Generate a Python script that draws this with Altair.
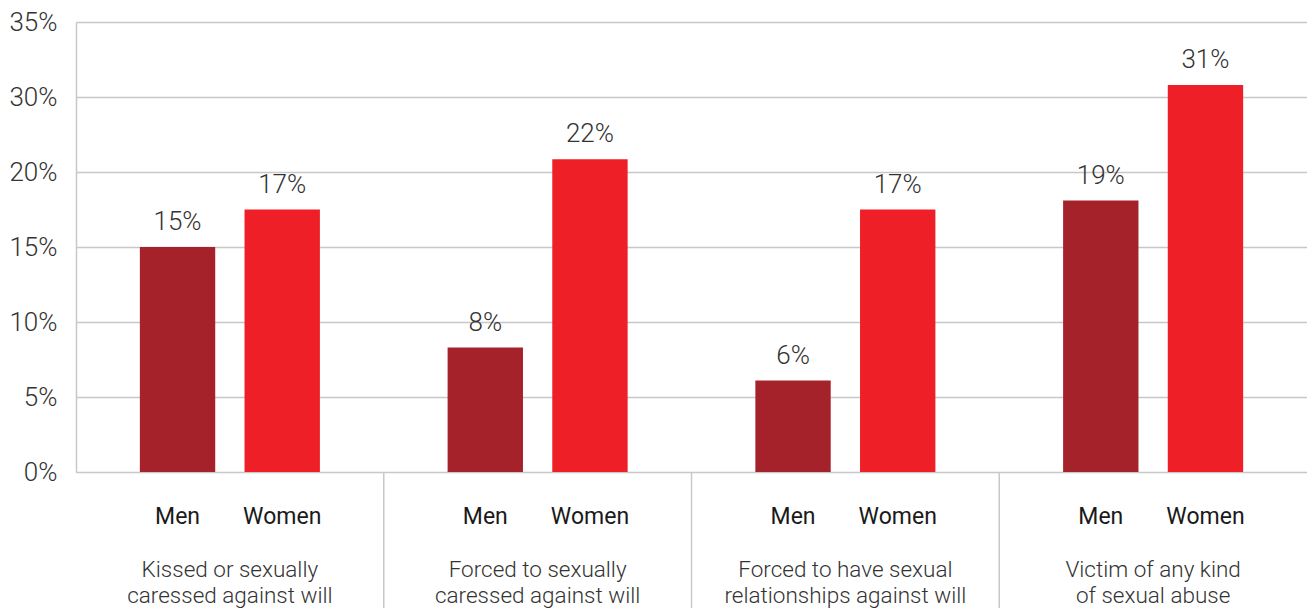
import altair as alt
import pandas as pd

# ---- data ----
categories = [
    "Kissed or sexually\ncaressed against will",
    "Forced to sexually\ncaressed against will",
    "Forced to have sexual\nrelationships against will",
    "Victim of any kind\nof sexual abuse",
]
genders = ["Men", "Women"]
# bar lengths as drawn against the printed gridlines
men_values = [15.0, 8.3, 6.1, 18.1]
women_values = [17.5, 21.7, 17.5, 30.8]
# value labels as printed above the bars
men_labels = ["15%", "8%", "6%", "19%"]
women_labels = ["17%", "22%", "17%", "31%"]
# printed y tick labels (gridlines are evenly spaced)
y_ticks = [0, 5, 10, 15, 20, 30, 35]

colors = ["#A5222A", "#EE1F27"]

rows = []
for i, c in enumerate(categories):
    rows.append({"cat": c, "gender": "Men", "value": men_values[i], "label": men_labels[i]})
    rows.append({"cat": c, "gender": "Women", "value": women_values[i], "label": women_labels[i]})
df = pd.DataFrame(rows)
cat_df = pd.DataFrame({"cat": categories})
sep_df = pd.DataFrame({"cat": categories[1:]})

W = 1231
H = 450
FONT = "Roboto"

y_scale = alt.Scale(
    domain=y_ticks,
    range=[H * (1 - i / (len(y_ticks) - 1)) for i in range(len(y_ticks))],
)
x_enc = alt.X("cat:N", scale=alt.Scale(domain=categories, paddingInner=0, paddingOuter=0), axis=None)
xoff_enc = alt.XOffset("gender:N", scale=alt.Scale(domain=genders, paddingInner=0.28, paddingOuter=0.61))

bars = alt.Chart(df).mark_bar().encode(
    x=x_enc,
    xOffset=xoff_enc,
    y=alt.Y(
        "value:Q",
        scale=y_scale,
        axis=alt.Axis(
            values=y_ticks,
            labelExpr="datum.value + '%'",
            title=None,
            ticks=False,
            grid=True,
            gridColor="#C8C8C8",
            gridWidth=1.5,
            domain=True,
            domainColor="#C8C8C8",
            domainWidth=1.5,
            labelFont=FONT,
            labelFontWeight=300,
            labelFontSize=26,
            labelColor="#333333",
            labelPadding=19,
        ),
    ),
    color=alt.Color("gender:N", scale=alt.Scale(domain=genders, range=colors), legend=None),
)

value_text = alt.Chart(df).mark_text(
    baseline="bottom", dy=-12, font=FONT, fontWeight=300, fontSize=26, color="#333333"
).encode(
    x=x_enc,
    xOffset=xoff_enc,
    y=alt.Y("value:Q", scale=y_scale),
    text="label:N",
)

gender_text = alt.Chart(df).mark_text(
    baseline="alphabetic", font=FONT, fontWeight=400, fontSize=23, color="#1A1A1A"
).encode(
    x=x_enc,
    xOffset=xoff_enc,
    y=alt.value(H + 52),
    text="gender:N",
)

cat_text = alt.Chart(cat_df).mark_text(
    baseline="alphabetic", lineBreak="\n", lineHeight=26, font=FONT, fontWeight=300,
    fontSize=22.5, color="#333333"
).encode(
    x=x_enc,
    y=alt.value(H + 105),
    text="cat:N",
)

separators = alt.Chart(sep_df).mark_rule(color="#C8C8C8", strokeWidth=1.5).encode(
    x=alt.X("cat:N", bandPosition=0, scale=alt.Scale(domain=categories, paddingInner=0, paddingOuter=0), axis=None),
    y=alt.value(H),
    y2=alt.value(H + 136),
)

chart = alt.layer(bars, value_text, gender_text, cat_text, separators).properties(
    width=W,
    height=H,
    autosize=alt.AutoSizeParams(type="none"),
    padding={"left": 68, "top": 14, "right": 0, "bottom": 136},
).configure_view(stroke=None).configure(background="white")

chart.save("out.html", embed_options={"renderer": "svg", "actions": False})
